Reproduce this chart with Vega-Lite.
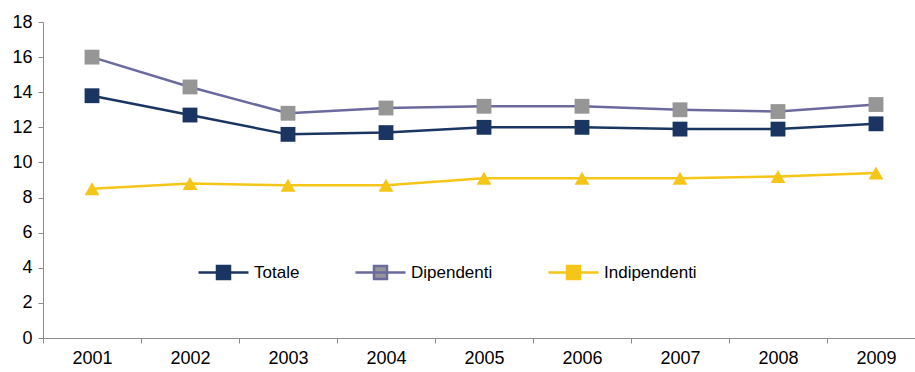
{
  "$schema": "https://vega.github.io/schema/vega-lite/v6.json",
  "autosize": "none",
  "padding": {"left": 43, "top": 22, "right": 0, "bottom": 34},
  "width": 882,
  "height": 316,
  "background": "white",
  "config": {
    "view": {"stroke": null},
    "font": "Liberation Sans",
    "axis": {"labelFont": "Liberation Sans", "labelFontSize": 18, "labelColor": "#000000", "domainColor": "#8c8c8c", "tickColor": "#8c8c8c", "grid": false, "title": null, "tickSize": 5, "domainWidth": 1, "tickWidth": 1},
    "legend": {
      "title": null,
      "orient": "none",
      "legendX": 154,
      "legendY": 224,
      "direction": "horizontal",
      "symbolType": "M-1,0H1M-0.26,-0.26H0.26V0.26H-0.26Z",
      "symbolSize": 2500,
      "symbolStrokeWidth": 2.5,
      "labelFont": "Liberation Sans",
      "labelFontSize": 17,
      "labelColor": "#000000",
      "labelOffset": 4,
      "columnPadding": 50
    }
  },
  "data": {
    "values": [
      {"year": "2001", "series": "Totale", "value": 13.8},
      {"year": "2002", "series": "Totale", "value": 12.7},
      {"year": "2003", "series": "Totale", "value": 11.6},
      {"year": "2004", "series": "Totale", "value": 11.7},
      {"year": "2005", "series": "Totale", "value": 12.0},
      {"year": "2006", "series": "Totale", "value": 12.0},
      {"year": "2007", "series": "Totale", "value": 11.9},
      {"year": "2008", "series": "Totale", "value": 11.9},
      {"year": "2009", "series": "Totale", "value": 12.2},
      {"year": "2001", "series": "Dipendenti", "value": 16.0},
      {"year": "2002", "series": "Dipendenti", "value": 14.3},
      {"year": "2003", "series": "Dipendenti", "value": 12.8},
      {"year": "2004", "series": "Dipendenti", "value": 13.1},
      {"year": "2005", "series": "Dipendenti", "value": 13.2},
      {"year": "2006", "series": "Dipendenti", "value": 13.2},
      {"year": "2007", "series": "Dipendenti", "value": 13.0},
      {"year": "2008", "series": "Dipendenti", "value": 12.9},
      {"year": "2009", "series": "Dipendenti", "value": 13.3},
      {"year": "2001", "series": "Indipendenti", "value": 8.5},
      {"year": "2002", "series": "Indipendenti", "value": 8.8},
      {"year": "2003", "series": "Indipendenti", "value": 8.7},
      {"year": "2004", "series": "Indipendenti", "value": 8.7},
      {"year": "2005", "series": "Indipendenti", "value": 9.1},
      {"year": "2006", "series": "Indipendenti", "value": 9.1},
      {"year": "2007", "series": "Indipendenti", "value": 9.1},
      {"year": "2008", "series": "Indipendenti", "value": 9.2},
      {"year": "2009", "series": "Indipendenti", "value": 9.4}
    ]
  },
  "encoding": {
    "x": {
      "field": "year", "type": "ordinal",
      "scale": {"type": "band", "paddingInner": 0, "paddingOuter": 0},
      "axis": {"labelAngle": 0, "tickBand": "extent", "labelPadding": 6}
    },
    "y": {
      "field": "value", "type": "quantitative",
      "scale": {"domain": [0, 18], "nice": false},
      "axis": {"values": [0, 2, 4, 6, 8, 10, 12, 14, 16, 18], "labelPadding": 6}
    }
  },
  "layer": [
    {
      "mark": {"type": "line", "strokeWidth": 2.5},
      "encoding": {
        "stroke": {
          "field": "series", "type": "nominal",
          "scale": {"domain": ["Totale", "Dipendenti", "Indipendenti"], "range": ["#1a3562", "#6a6a9e", "#f5c518"]}
        }
      }
    },
    {
      "transform": [{"filter": "datum.series !== 'Indipendenti'"}],
      "mark": {"type": "point", "filled": true, "opacity": 1, "size": 220, "shape": "square"},
      "encoding": {
        "fill": {
          "field": "series", "type": "nominal",
          "scale": {"domain": ["Totale", "Dipendenti", "Indipendenti"], "range": ["#1a3562", "#969696", "#f5c518"]}
        }
      }
    },
    {
      "transform": [{"filter": "datum.series === 'Indipendenti'"}],
      "mark": {"type": "point", "filled": true, "opacity": 1, "size": 220, "shape": "triangle-up"},
      "encoding": {
        "fill": {
          "field": "series", "type": "nominal",
          "scale": {"domain": ["Totale", "Dipendenti", "Indipendenti"], "range": ["#1a3562", "#969696", "#f5c518"]}
        }
      }
    }
  ]
}
